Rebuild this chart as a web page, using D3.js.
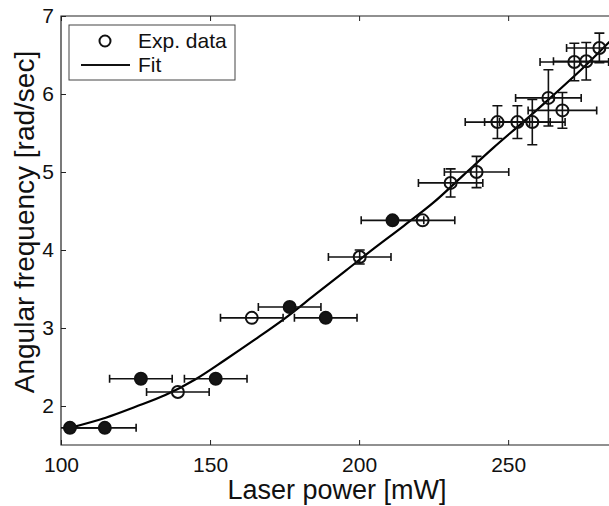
<!DOCTYPE html>
<html lang="en">
<head>
<meta charset="UTF-8">
<title>Angular frequency vs laser power</title>
<script src="https://d3js.org/d3.v7.min.js"></script>
<style>
    body { margin: 0; background: #fff; }
    svg { display: block; font-family: "Liberation Sans", Arial, sans-serif; }
    .axis text { font-size: 21px; fill: #111; }
    .axis path { stroke: none; }
    .axis line { stroke: #222; }
</style>
</head>
<body>
<svg width="609" height="506"></svg>
<script>
// measured points
const power    = [103.0, 114.7, 126.8, 139.2, 151.9, 164.0, 176.7, 188.8, 200.2, 211.2, 221.3,
                  230.7, 239.4, 246.4, 253.1, 258.1, 268.2, 263.5, 272.2, 276.2, 280.6];
const omega    = [1.72, 1.72, 2.35, 2.18, 2.35, 3.13, 3.27, 3.13, 3.91, 4.38, 4.38,
                  4.86, 5.00, 5.64, 5.64, 5.64, 5.79, 5.95, 6.41, 6.42, 6.59];
const powerErr = [10.5, 10.5, 10.5, 10.5, 10.5, 10.5, 10.5, 10.5, 10.5, 10.5, 10.8,
                  10.8, 10.8, 10.8, 11, 11, 11.5, 11, 11.5, 11, 11];
const omegaErr = [0.04, 0.04, 0.04, 0.04, 0.04, 0.04, 0.04, 0.04, 0.09, 0.05, 0.05,
                  0.18, 0.2, 0.21, 0.21, 0.29, 0.23, 0.36, 0.24, 0.24, 0.19];
const filled   = [1, 1, 1, 0, 1, 0, 1, 1, 0, 1, 0, 0, 0, 0, 0, 0, 0, 0, 0, 0, 0];

// fit curve
const fitPower = [103, 115, 125, 135, 145, 155, 165, 175, 185, 195, 205, 215, 225, 235, 245, 255, 265, 275, 284];
const fitOmega = [1.72, 1.85, 1.99, 2.14, 2.34, 2.59, 2.85, 3.12, 3.42, 3.72, 4.02, 4.31, 4.61, 4.96, 5.31, 5.64, 5.98, 6.33, 6.67];

const xTicks = [100, 150, 200, 250];
const yTicks = [2, 3, 4, 5, 6, 7];

const svg = d3.select("svg");
const plotL = 61, plotR = 611, plotT = 16, plotB = 445;

const x = d3.scaleLinear().domain([100, 284.5]).range([plotL, plotR]);
const y = d3.scaleLinear().domain([1.5, 7]).range([plotB, plotT]);

svg.append("clipPath").attr("id", "plot")
  .append("rect").attr("x", plotL).attr("y", plotT)
  .attr("width", plotR - plotL).attr("height", plotB - plotT);

// axes (ticks pointing inward)
svg.append("g").attr("class", "axis")
  .attr("transform", `translate(0,${plotB})`)
  .call(d3.axisBottom(x).tickValues(xTicks).tickFormat(d3.format("d"))
    .tickSizeInner(-5).tickSizeOuter(0).tickPadding(12));

svg.append("g").attr("class", "axis")
  .attr("transform", `translate(0,${plotT})`)
  .call(d3.axisTop(x).tickValues(xTicks).tickSizeInner(-5).tickSizeOuter(0).tickFormat(""));

svg.append("g").attr("class", "axis")
  .attr("transform", `translate(${plotL},0)`)
  .call(d3.axisLeft(y).tickValues(yTicks).tickFormat(d3.format("d"))
    .tickSizeInner(-5).tickSizeOuter(0).tickPadding(7));

// frame
svg.append("path")
  .attr("d", `M${plotR},${plotT}H${plotL}V${plotB}H${plotR}`)
  .attr("fill", "none").attr("stroke", "#222").attr("stroke-width", 1.2);

const plot = svg.append("g").attr("clip-path", "url(#plot)");

const pts = power.map((p, i) => ({ p, w: omega[i], ep: powerErr[i], ew: omegaErr[i], f: filled[i] }));

// fit line
const fit = fitPower.map((p, i) => [p, fitOmega[i]]);
plot.append("path")
  .datum(fit)
  .attr("fill", "none").attr("stroke", "#000").attr("stroke-width", 2.2)
  .attr("d", d3.line().x(d => x(d[0])).y(d => y(d[1])).curve(d3.curveCatmullRom));

// error bars
const eb = plot.append("g").attr("stroke", "#111").attr("stroke-width", 1.6).attr("fill", "none");
pts.forEach(d => {
  const cy = y(d.w), cx = x(d.p);
  const x0 = x(d.p - d.ep), x1 = x(d.p + d.ep);
  eb.append("path").attr("d", `M${x0},${cy}H${x1}M${x0},${cy - 4}V${cy + 4}M${x1},${cy - 4}V${cy + 4}`);
  const y0 = y(d.w - d.ew), y1 = y(d.w + d.ew);
  if (y0 - y1 > 14) {
    eb.append("path").attr("d", `M${cx},${y0}V${y1}M${cx - 5},${y0}H${cx + 5}M${cx - 5},${y1}H${cx + 5}`);
  }
});

// markers
plot.selectAll("circle.pt")
  .data(pts)
  .join("circle")
  .attr("class", "pt")
  .attr("cx", d => x(d.p))
  .attr("cy", d => y(d.w))
  .attr("r", 6)
  .attr("fill", d => d.f ? "#151515" : "none")
  .attr("stroke", "#111")
  .attr("stroke-width", 2);

// legend
const lg = svg.append("g");
lg.append("rect").attr("x", 69).attr("y", 25).attr("width", 166).attr("height", 55)
  .attr("fill", "#fff").attr("stroke", "#444").attr("stroke-width", 1);
lg.append("circle").attr("cx", 105).attr("cy", 41).attr("r", 5.5)
  .attr("fill", "none").attr("stroke", "#111").attr("stroke-width", 2);
lg.append("line").attr("x1", 81).attr("x2", 130).attr("y1", 65).attr("y2", 65)
  .attr("stroke", "#111").attr("stroke-width", 2);
lg.append("text").attr("x", 138).attr("y", 48).attr("font-size", 21).attr("fill", "#111").text("Exp. data");
lg.append("text").attr("x", 138).attr("y", 72).attr("font-size", 21).attr("fill", "#111").text("Fit");

// axis titles
svg.append("text")
  .attr("x", 337).attr("y", 499)
  .attr("text-anchor", "middle").attr("font-size", 27).attr("fill", "#111")
  .text("Laser power [mW]");

svg.append("text")
  .attr("transform", "translate(34,222) rotate(-90)")
  .attr("text-anchor", "middle").attr("font-size", 28).attr("fill", "#111")
  .text("Angular frequency [rad/sec]");
</script>
</body>
</html>
